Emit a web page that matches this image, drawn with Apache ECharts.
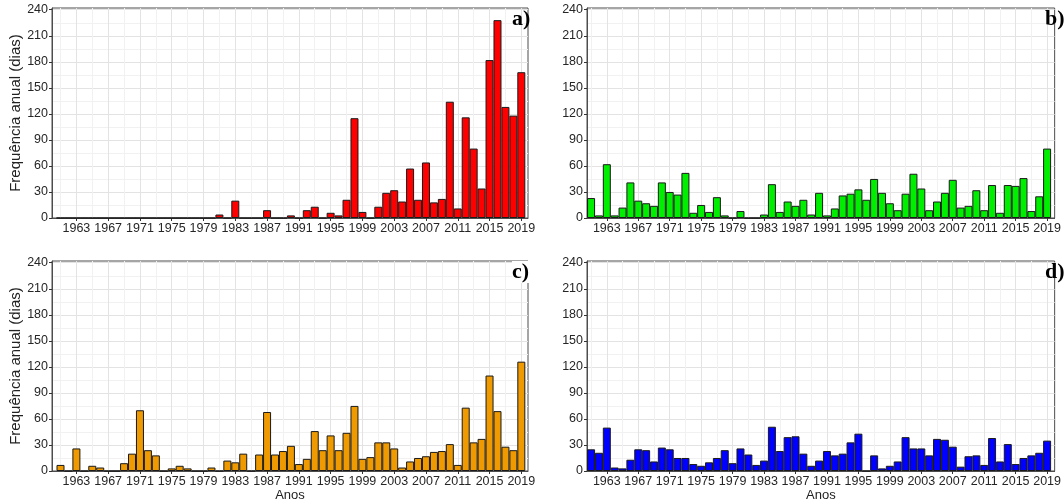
<!DOCTYPE html>
<html><head><meta charset="utf-8">
<script src="https://cdn.jsdelivr.net/npm/echarts@6/dist/echarts.min.js"></script>
<style>html,body{margin:0;padding:0;background:#fff}#c{width:1064px;height:504px}</style>
</head><body><div id="c"></div>
<script>
const years = [1961,1962,1963,1964,1965,1966,1967,1968,1969,1970,
  1971,1972,1973,1974,1975,1976,1977,1978,1979,1980,
  1981,1982,1983,1984,1985,1986,1987,1988,1989,1990,
  1991,1992,1993,1994,1995,1996,1997,1998,1999,2000,
  2001,2002,2003,2004,2005,2006,2007,2008,2009,2010,
  2011,2012,2013,2014,2015,2016,2017,2018,2019];

const valuesA = [0,0,0,0,0,0,0,0,0,0,
  0,0,0,0,0,0,0,0,0,0,
  4,0,20,0,0,0,9,0,0,3,
  0,9,13,0,6,3,21,115,7,0,
  13,29,32,19,57,21,64,18,22,134,
  11,116,80,34,182,228,128,118,168];

const valuesB = [23,3,62,3,12,41,20,17,14,41,
  30,27,52,6,15,7,24,3,0,8,
  0,0,4,39,7,19,14,21,4,29,
  3,11,26,28,33,21,45,29,17,9,
  28,51,34,9,19,29,44,12,14,32,
  9,38,6,38,37,46,8,25,80];

const valuesC = [7,0,26,0,6,4,0,0,9,20,
  70,24,18,0,3,6,3,0,0,4,
  0,12,10,20,0,19,68,19,23,29,
  8,14,46,24,41,24,44,75,14,16,
  33,33,26,4,11,15,17,22,23,31,
  7,73,33,37,110,69,28,24,126];

const valuesD = [25,21,50,4,3,13,25,24,11,27,
  25,15,15,8,6,10,15,24,9,26,
  19,7,12,51,23,39,40,20,6,12,
  23,18,20,33,43,0,18,3,6,11,
  39,26,26,18,37,36,28,5,17,18,
  7,38,11,31,8,15,18,21,35];

const xTickYears = [1963,1967,1971,1975,1979,1983,1987,1991,1995,1999,2003,2007,2011,2015,2019];
const xMinorYears = [1961,1965,1969,1973,1977,1981,1985,1989,1993,1997,2001,2005,2009,2013,2017];
const yTicks = [0,30,60,90,120,150,180,210,240];
const yMinor = [15,45,75,105,135,165,195,225];
const panelLabels = ['a)','b)','c)','d)'];
const panelColors = ['#ff0000','#00ee00','#ee9a00','#0000ff'];
const yTitle = 'Frequência anual (dias)';
const xTitle = 'Anos';

const panelValues = [valuesA, valuesB, valuesC, valuesD];

const grids = [
  {left:52, top:8, width:476, height:210},
  {left:587, top:8, width:471, height:210},
  {left:52, top:261, width:476, height:210},
  {left:587, top:261, width:471, height:210}
];
const xRange = [[1959.93,2019.84],[1960.48,2019.96],[1959.93,2019.84],[1960.48,2019.96]];
const labelPos = [{left:512,top:8},{left:1045,top:8},{left:512,top:261},{left:1045,top:261}];

const font = 'Liberation Sans';
const xAxes = [], yAxes = [], series = [], titles = [];
grids.forEach((g, i) => {
  g.show = true; g.borderColor = '#4d4d4d'; g.borderWidth = 1; g.backgroundColor = 'transparent';
  const bottomRow = i >= 2, leftCol = i % 2 === 0;
  xAxes.push({
    type:'value', gridIndex:i, min:xRange[i][0], max:xRange[i][1], position:'bottom',
    axisLine:{show:true, onZero:false, lineStyle:{color:'#4d4d4d', width:1}},
    axisTick:{show:true, customValues:xTickYears, length:3, lineStyle:{color:'#333'}},
    axisLabel:{customValues:xTickYears, fontSize:12.5, color:'#262626', margin:4, fontFamily:font,
      formatter:(v) => String(Math.round(v))},
    splitLine:{show:true, lineStyle:{color:'#e3e3e3', width:1}},
    name: bottomRow ? xTitle : '', nameLocation:'middle', nameGap:17,
    nameTextStyle:{fontSize:13, color:'#222', fontFamily:font}
  });
  xAxes.push({
    type:'value', gridIndex:i, min:xRange[i][0], max:xRange[i][1], position:'top',
    axisLine:{show:false}, axisTick:{show:false, customValues:xMinorYears},
    axisLabel:{show:false, customValues:xMinorYears},
    splitLine:{show:true, lineStyle:{color:'#f1f1f1', width:1}}
  });
  yAxes.push({
    type:'value', gridIndex:i, min:0, max:242, interval:30,
    axisLine:{show:true, onZero:false, lineStyle:{color:'#4d4d4d', width:1}},
    axisTick:{show:true, customValues:yTicks, length:3, lineStyle:{color:'#333'}},
    axisLabel:{customValues:yTicks, fontSize:12.5, color:'#262626', margin:4, fontFamily:font},
    splitLine:{show:true, lineStyle:{color:'#e3e3e3', width:1}},
    name: leftCol ? yTitle : '', nameLocation:'middle', nameGap:28,
    nameTextStyle:{fontSize:15, color:'#222', fontFamily:font}
  });
  yAxes.push({
    type:'value', gridIndex:i, min:0, max:242, position:'right',
    axisLine:{show:false}, axisTick:{show:false, customValues:yMinor},
    axisLabel:{show:false, customValues:yMinor},
    splitLine:{show:true, lineStyle:{color:'#f1f1f1', width:1}}
  });
  series.push({
    type:'bar', xAxisIndex:2*i, yAxisIndex:2*i, barWidth:8,
    data: years.map((y, k) => [y, panelValues[i][k]]),
    itemStyle:{color:panelColors[i], borderColor:'#1a1a1a', borderWidth:1},
    silent:true, animation:false
  });
  titles.push({
    text: panelLabels[i], left:labelPos[i].left, top:labelPos[i].top, padding:[0,0,0,0],
    backgroundColor: i === 2 ? '#fff' : 'transparent',
    textStyle:{fontFamily:'Liberation Serif', fontWeight:'bold', fontSize:22, color:'#000'}
  });
});

const chart = echarts.init(document.getElementById('c'), null, {renderer:'canvas'});
chart.setOption({
  animation:false,
  backgroundColor:'#fff',
  title: titles,
  grid: grids,
  xAxis: xAxes,
  yAxis: yAxes,
  series: series
});
</script>
</body></html>
